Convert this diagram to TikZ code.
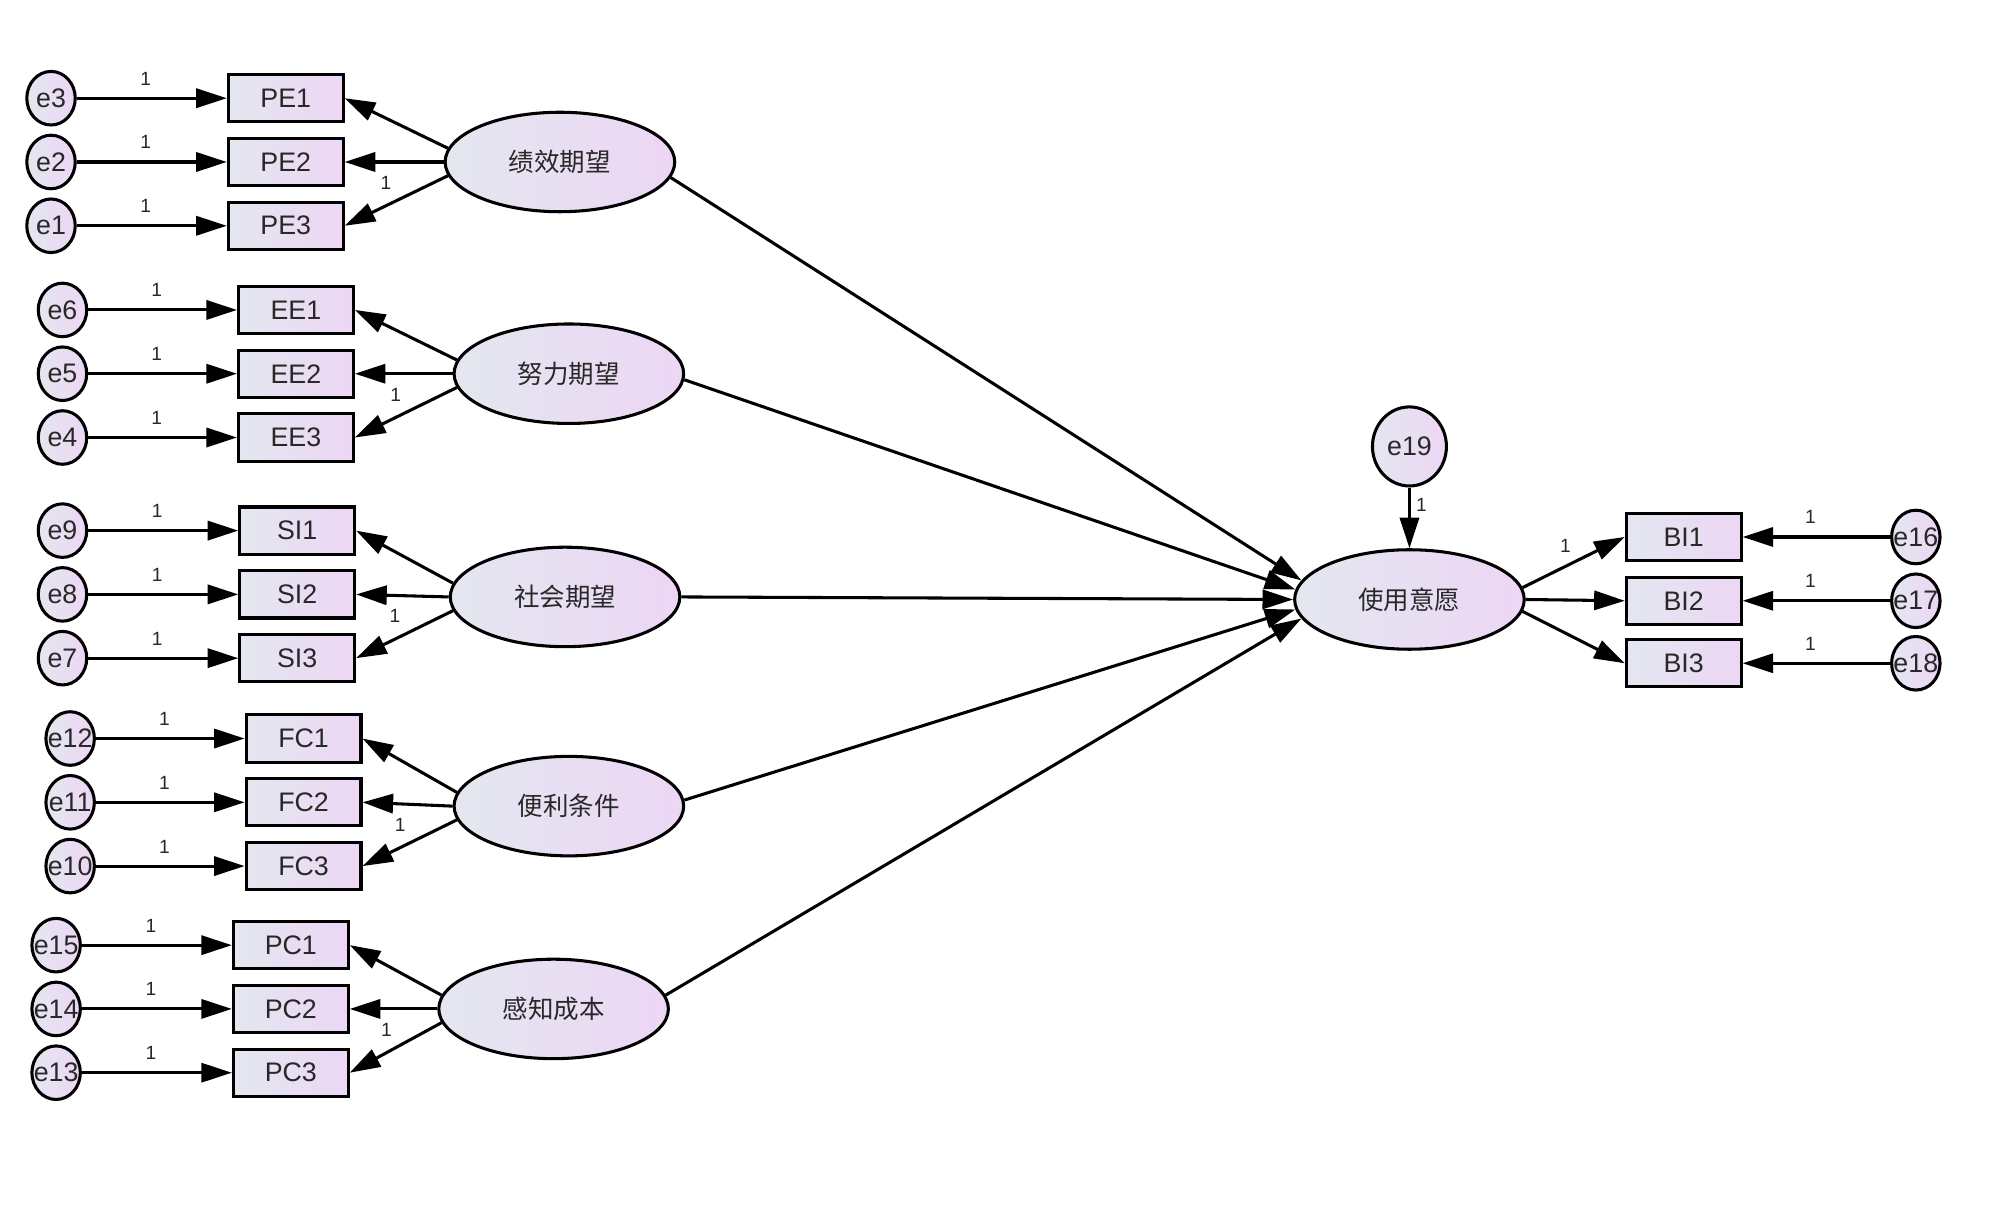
\documentclass[tikz,border=0pt]{standalone}
\usepackage{fontspec}
\setmainfont{Liberation Sans}
\newfontfamily\cjk{Noto Sans CJK SC}
\usetikzlibrary{arrows.meta,shapes.geometric}
\newcommand\ztxt[1]{\makebox[0pt]{#1}}
\definecolor{fillL}{RGB}{228,231,240}
\definecolor{fillR}{RGB}{236,214,244}
\definecolor{txt}{RGB}{40,40,40}
\tikzset{
  base/.style={draw=black, line width=1.2pt, left color=fillL, right color=fillR, text=txt, font=\fontsize{10.5}{12}\selectfont, inner sep=0pt},
  err/.style={base, ellipse, minimum width=19pt, minimum height=21pt},
  bigerr/.style={base, ellipse, minimum width=29pt, minimum height=31pt},
  ind/.style={base, rectangle, minimum width=45pt, minimum height=18.5pt},
  lat/.style={base, ellipse, minimum width=90pt, minimum height=39pt, font=\cjk\fontsize{10}{12}\selectfont},
  lbl/.style={font=\fontsize{7.5}{8}\selectfont, inner sep=0pt, text=txt},
  arr/.style={line width=1.2pt, -{Triangle[length=12pt,width=7.5pt]}},
}
\begin{document}
\begin{tikzpicture}[x=0.5pt,y=-0.5pt]
\fill[white] (0,0) rectangle (1568,952);
\useasboundingbox (0,0) rectangle (1568,952);

% ---------- PE ----------
\node[lat] (pe) at (439,127) {绩效期望};
\node[ind] (pe1) at (224,77) {PE1};
\node[ind] (pe2) at (224,127) {PE2};
\node[ind] (pe3) at (224,177) {PE3};
\node[err] (e3) at (40,77) {\ztxt{e3}};
\node[err] (e2) at (40,127) {\ztxt{e2}};
\node[err] (e1) at (40,177) {\ztxt{e1}};
% ---------- EE ----------
\node[lat] (ee) at (446,293) {努力期望};
\node[ind] (ee1) at (232,243) {EE1};
\node[ind] (ee2) at (232,293) {EE2};
\node[ind] (ee3) at (232,343) {EE3};
\node[err] (e6) at (49,243) {\ztxt{e6}};
\node[err] (e5) at (49,293) {\ztxt{e5}};
\node[err] (e4) at (49,343) {\ztxt{e4}};
% ---------- SI ----------
\node[lat] (si) at (443,468) {社会期望};
\node[ind] (si1) at (233,416) {SI1};
\node[ind] (si2) at (233,466) {SI2};
\node[ind] (si3) at (233,516) {SI3};
\node[err] (e9) at (49,416) {\ztxt{e9}};
\node[err] (e8) at (49,466) {\ztxt{e8}};
\node[err] (e7) at (49,516) {\ztxt{e7}};
% ---------- FC ----------
\node[lat] (fc) at (446,632) {便利条件};
\node[ind] (fc1) at (238,579) {FC1};
\node[ind] (fc2) at (238,629) {FC2};
\node[ind] (fc3) at (238,679) {FC3};
\node[err] (e12) at (55,579) {\ztxt{e12}};
\node[err] (e11) at (55,629) {\ztxt{e11}};
\node[err] (e10) at (55,679) {\ztxt{e10}};
% ---------- PC ----------
\node[lat] (pc) at (434,791) {感知成本};
\node[ind] (pc1) at (228,741) {PC1};
\node[ind] (pc2) at (228,791) {PC2};
\node[ind] (pc3) at (228,841) {PC3};
\node[err] (e15) at (44,741) {\ztxt{e15}};
\node[err] (e14) at (44,791) {\ztxt{e14}};
\node[err] (e13) at (44,841) {\ztxt{e13}};
% ---------- BI ----------
\node[lat] (use) at (1105,470) {使用意愿};
\node[bigerr] (e19) at (1105,350) {e19};
\node[ind] (bi1) at (1320,421) {BI1};
\node[ind] (bi2) at (1320,471) {BI2};
\node[ind] (bi3) at (1320,520) {BI3};
\node[err] (e16) at (1502,421) {\ztxt{e16}};
\node[err] (e17) at (1502,471) {\ztxt{e17}};
\node[err] (e18) at (1502,520) {\ztxt{e18}};

% error arrows (left groups)
\foreach \e/\i in {e3/pe1,e2/pe2,e1/pe3,e6/ee1,e5/ee2,e4/ee3,e9/si1,e8/si2,e7/si3,e12/fc1,e11/fc2,e10/fc3,e15/pc1,e14/pc2,e13/pc3}
  \draw[arr] (\e.east) -- node[lbl, pos=0.46, above=4.5pt] {1} (\i.west);
% loadings
\foreach \l/\a/\b/\c in {pe/pe1/pe2/pe3,ee/ee1/ee2/ee3,si/si1/si2/si3,fc/fc1/fc2/fc3,pc/pc1/pc2/pc3}{
  \draw[arr] (\l.173) -- (\a.east);
  \draw[arr] (\l.180) -- (\b.east);
  \draw[arr] (\l.187) -- node[lbl, pos=0.6, yshift=9pt] {1} (\c.east);
}
% structural paths
\draw[arr] (pe.-8) -- (use.170);
\draw[arr] (ee.-3) -- (use.175);
\draw[arr] (si.0) -- (use.180);
\draw[arr] (fc.3) -- (use.185);
\draw[arr] (pc.7) -- (use.190);
% disturbance
\draw[arr] (e19.south) -- node[lbl, pos=0.28, right=2pt] {1} (use.north);
% BI loadings
\draw[arr] (use.6) -- node[lbl, pos=0.42, yshift=8pt] {1} (bi1.west);
\draw[arr] (use.0) -- (bi2.west);
\draw[arr] (use.-6) -- (bi3.west);
% BI errors
\foreach \e/\i in {e16/bi1,e17/bi2,e18/bi3}
  \draw[arr] (\e.west) -- node[lbl, pos=0.54, above=4.5pt] {1} (\i.east);
\end{tikzpicture}
\end{document}
